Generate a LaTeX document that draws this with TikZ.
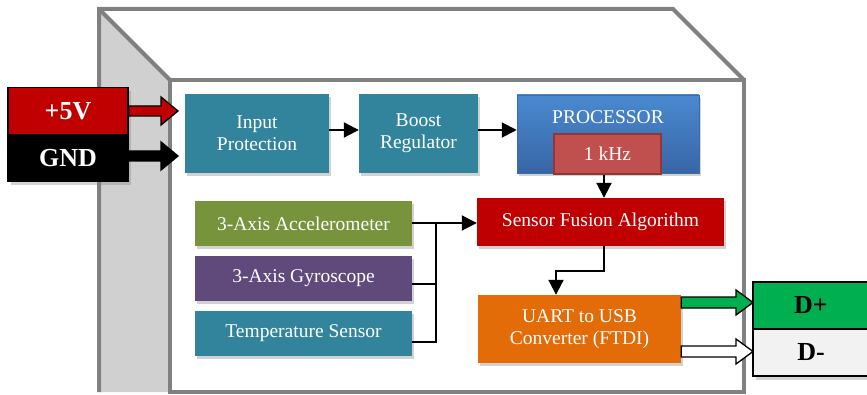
\documentclass[tikz,border=0pt]{standalone}
\usepackage{fontspec}
\setmainfont{Liberation Serif}
\usetikzlibrary{arrows.meta,shadows,positioning}
\definecolor{cteal}{HTML}{31849B}
\definecolor{cgreen}{HTML}{77933C}
\definecolor{cpurple}{HTML}{604A7B}
\definecolor{cred}{HTML}{C00000}
\definecolor{corange}{HTML}{E36C09}
\definecolor{cblueT}{HTML}{4A89D0}
\definecolor{cblueB}{HTML}{3866A6}
\definecolor{ckhz}{HTML}{C0504D}
\definecolor{ckhzb}{HTML}{943634}
\definecolor{cdp}{HTML}{00B050}
\definecolor{cdm}{HTML}{F2F2F2}
\definecolor{cframe}{HTML}{808080}
\definecolor{cpanel}{HTML}{D0D0D0}
\tikzset{
  blk/.style={rectangle, inner sep=0pt, align=center, text=white,
    font=\fontsize{19.5}{22}\selectfont,
    drop shadow={opacity=0.35, shadow xshift=2pt, shadow yshift=-3pt}},
  port/.style={rectangle, draw=black, line width=1.5pt, inner sep=0pt,
    font=\bfseries\fontsize{26}{30}\selectfont, minimum width=120pt, minimum height=47pt,
    drop shadow={opacity=0.35, shadow xshift=3pt, shadow yshift=-4pt}},
  link/.style={line width=2pt, -{Triangle[length=15pt,width=15pt]}},
  wire/.style={line width=2pt},
  fat/.style={draw=black, line width=1.3pt, line join=miter}
}
\begin{document}
\begin{tikzpicture}[x=1pt,y=-1pt]
\useasboundingbox (0,0) rectangle (867,395);
% housing
\fill[cpanel] (99,9) -- (170,80) -- (170,392) -- (99,392) -- cycle;
\draw[cframe, line width=4pt, line join=miter] (99,392) -- (99,9) -- (673,9) -- (744,80);
\draw[cframe, line width=4pt] (99,9) -- (170,80);
\draw[cframe, line width=4pt, fill=white] (170,80) rectangle (744,392);

% top row
\node[blk, fill=cteal, minimum width=144pt, minimum height=79pt] (inp) at (257,133.5) {Input\\Protection};
\node[blk, fill=cteal, minimum width=119pt, minimum height=79pt] (boost) at (418.5,133.5) {Boost\\Regulator};
\node[blk, top color=cblueT, bottom color=cblueB, draw=cblueT!80!black, line width=0.5pt,
      minimum width=182pt, minimum height=78pt] (proc) at (608,134) {};
\node[text=white, font=\fontsize{19.5}{22}\selectfont] (proclbl) at (608,117) {PROCESSOR};
\node[rectangle, fill=ckhz, draw=ckhzb, line width=1.5pt, minimum width=107pt, minimum height=40pt,
      text=white, font=\fontsize{19.5}{22}\selectfont, inner sep=0pt] (khz) at (607.5,154) {1 kHz};

% fusion
\node[blk, fill=cred, minimum width=247pt, minimum height=48pt] (fus) at (600.5,222) {Sensor Fusion Algorithm};
% uart
\node[blk, fill=corange, minimum width=203pt, minimum height=68pt] (uart) at (579.5,329) {UART to USB\\Converter (FTDI)};

% sensors
\node[blk, fill=cgreen, minimum width=217pt, minimum height=45pt] (acc) at (303.5,223.5) {3-Axis Accelerometer};
\node[blk, fill=cpurple, minimum width=217pt, minimum height=45pt] (gyr) at (303.5,278.5) {3-Axis Gyroscope};
\node[blk, fill=cteal, minimum width=217pt, minimum height=45pt] (tmp) at (303.5,333.5) {Temperature Sensor};

% ports
\node[port, fill=cred, text=white] (p5) at (68,111) {+5V};
\node[port, fill=black, text=white] (gnd) at (68,158) {GND};
\node[port, fill=cdp, text=black, minimum width=116pt] (dp) at (811,305.5) {D+};
\node[port, fill=cdm, text=black, minimum width=116pt] (dm) at (811,352.5) {D-};

% thin arrows
\draw[link] (inp.east |- 0,130) -- (boost.west |- 0,130);
\draw[link] (boost.east |- 0,130) -- (proc.west |- 0,130);
\draw[link] (khz.south -| 604,0) -- (fus.north -| 604,0);
\coordinate (b1) at (604,271);
\coordinate (b2) at (556,271);
\draw[link] (fus.south -| b1) -- (b1) -- (b2) -- (uart.north -| b2);
\coordinate (j) at (436,223);
\draw[wire] (acc.east |- j) -- (j);
\draw[link] (j) -- (fus.west |- j);
\draw[wire] (gyr.east |- 0,284) -- (436,284);
\draw[wire] (tmp.east |- 0,342) -- (436,342) -- (j);

% fat arrows
\draw[fat, fill=cred] (p5.east |- 0,106) -- (161,106) -- (161,97) -- (178,111) -- (161,125) -- (161,116) -- (p5.east |- 0,116) -- cycle;
\draw[fat, fill=black] (gnd.east |- 0,151) -- (161,151) -- (161,142) -- (178,156) -- (161,170) -- (161,161) -- (gnd.east |- 0,161) -- cycle;
\draw[fat, fill=cdp] (uart.east |- 0,297) -- (736,297) -- (736,290) -- (753,302.5) -- (736,315) -- (736,308) -- (uart.east |- 0,308) -- cycle;
\draw[fat, fill=white] (uart.east |- 0,346) -- (736,346) -- (736,339) -- (753,351.5) -- (736,364) -- (736,357) -- (uart.east |- 0,357) -- cycle;
\end{tikzpicture}
\end{document}
